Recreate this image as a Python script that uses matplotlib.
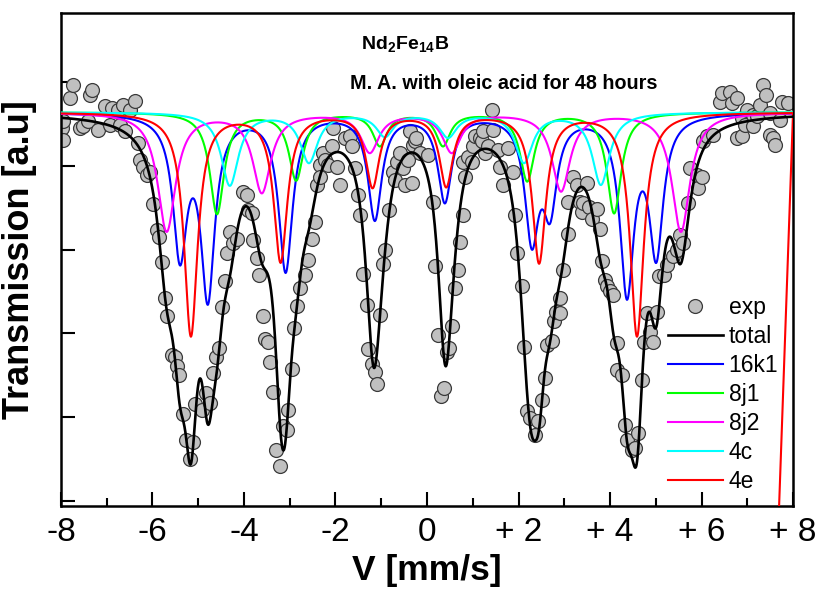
import numpy as np
import matplotlib
matplotlib.use('Agg')
import matplotlib.pyplot as plt
from matplotlib.ticker import MultipleLocator

plt.rcParams['font.family'] = ['Liberation Sans', 'DejaVu Sans']
plt.rcParams['mathtext.fontset'] = 'custom'
plt.rcParams['mathtext.rm'] = 'Liberation Sans:bold'

# measured spectrum (velocity in mm/s, transmission in a.u.)
exp_v = [-7.98, -7.95, -7.95, -7.80, -7.73, -7.58, -7.51, -7.40, -7.37, -7.33,
         -7.18, -7.04, -6.93, -6.89, -6.75, -6.71, -6.64, -6.60, -6.49, -6.38,
         -6.31, -6.27, -6.20, -6.13, -6.05, -5.98, -5.91, -5.85, -5.80, -5.73,
         -5.69, -5.58, -5.51, -5.47, -5.41, -5.34, -5.27, -5.17, -5.11, -5.07,
         -4.92, -4.82, -4.74, -4.67, -4.61, -4.54, -4.49, -4.42, -4.38, -4.31,
         -4.23, -4.16, -4.02, -3.94, -3.91, -3.83, -3.80, -3.72, -3.67, -3.59,
         -3.54, -3.47, -3.43, -3.36, -3.29, -3.21, -3.14, -3.07, -3.03, -2.96,
         -2.91, -2.85, -2.78, -2.67, -2.59, -2.52, -2.45, -2.41, -2.34, -2.34,
         -2.27, -2.23, -2.16, -2.08, -2.05, -1.97, -1.90, -1.79, -1.68, -1.65,
         -1.57, -1.50, -1.46, -1.39, -1.32, -1.28, -1.21, -1.14, -1.09, -1.03,
         -0.96, -0.92, -0.82, -0.74, -0.70, -0.66, -0.59, -0.52, -0.48, -0.41,
         -0.37, -0.33, -0.30, -0.26, -0.23, -0.15, 0.03, 0.14, 0.17, 0.24,
         0.30, 0.37, 0.43, 0.47, 0.54, 0.61, 0.68, 0.72, 0.79, 0.79,
         0.83, 0.90, 0.98, 1.01, 1.05, 1.16, 1.20, 1.23, 1.27, 1.34,
         1.41, 1.45, 1.56, 1.60, 1.67, 1.78, 1.89, 1.92, 1.96, 2.07,
         2.12, 2.18, 2.25, 2.36, 2.43, 2.51, 2.57, 2.63, 2.73, 2.78,
         2.83, 2.91, 2.91, 2.98, 3.09, 3.09, 3.20, 3.27, 3.34, 3.38,
         3.42, 3.49, 3.53, 3.60, 3.71, 3.78, 3.82, 3.89, 3.93, 4.00,
         4.07, 4.15, 4.15, 4.26, 4.33, 4.37, 4.47, 4.55, 4.62, 4.69,
         4.74, 4.80, 4.87, 4.95, 5.02, 5.06, 5.17, 5.24, 5.38, 5.46,
         5.53, 5.60, 5.71, 5.75, 5.90, 5.93, 6.00, 6.04, 6.11, 6.26,
         6.40, 6.44, 6.62, 6.66, 6.77, 6.77, 6.88, 6.88, 6.95, 6.99,
         7.13, 7.13, 7.21, 7.28, 7.35, 7.41, 7.50, 7.50, 7.57, 7.61,
         7.72, 7.75, 7.90]
exp_t = [4.45, 4.53, 4.31, 4.81, 4.96, 4.45, 4.47, 4.53, 4.84, 4.90,
         4.43, 4.71, 4.49, 4.69, 4.67, 4.49, 4.73, 4.41, 4.67, 4.77,
         4.27, 4.07, 3.99, 3.89, 3.93, 3.54, 3.23, 3.15, 2.85, 2.42,
         2.21, 1.74, 1.72, 1.61, 1.50, 1.04, 0.73, 0.50, 0.70, 1.16,
         1.09, 1.29, 1.17, 1.53, 1.72, 1.83, 2.32, 2.62, 2.96, 3.21,
         3.08, 3.13, 3.69, 3.65, 3.47, 3.44, 3.11, 2.90, 2.70, 2.21,
         1.93, 1.90, 1.66, 1.30, 0.61, 0.42, 0.89, 0.85, 1.08, 1.58,
         2.06, 2.33, 2.54, 2.70, 2.88, 3.13, 3.33, 3.77, 4.01, 3.87,
         4.15, 4.07, 4.01, 4.23, 4.45, 3.99, 3.77, 4.33, 4.35, 4.23,
         3.97, 3.65, 3.41, 2.71, 2.34, 1.81, 1.64, 1.54, 1.40, 2.22,
         2.83, 3.00, 3.47, 3.93, 3.83, 4.05, 4.15, 3.97, 3.77, 4.07,
         4.41, 3.79, 4.25, 4.29, 4.33, 4.15, 4.13, 3.57, 2.80, 1.98,
         1.25, 1.35, 1.78, 1.82, 2.09, 2.54, 2.76, 3.09, 3.41, 4.05,
         3.87, 4.11, 4.05, 4.23, 4.35, 4.33, 4.29, 4.41, 4.15, 4.23,
         4.67, 4.43, 4.19, 3.99, 3.77, 4.21, 3.93, 3.41, 2.96, 2.56,
         1.84, 1.07, 0.99, 0.79, 0.95, 1.21, 1.47, 1.86, 1.91, 2.15,
         2.26, 2.42, 2.24, 2.76, 3.19, 3.57, 3.87, 3.77, 3.57, 3.45,
         3.55, 3.79, 3.51, 3.37, 3.49, 3.25, 2.86, 2.64, 2.56, 2.50,
         2.46, 1.88, 1.56, 1.50, 0.91, 0.73, 0.61, 0.63, 0.81, 1.44,
         1.90, 2.24, 2.02, 1.90, 2.26, 2.68, 2.70, 2.82, 2.92, 3.00,
         3.17, 3.08, 3.55, 3.97, 3.89, 3.73, 3.87, 4.29, 4.35, 4.37,
         4.76, 4.87, 4.88, 4.75, 4.81, 4.33, 4.57, 4.35, 4.49, 4.67,
         4.61, 4.47, 4.59, 4.73, 4.96, 4.84, 4.63, 4.37, 4.33, 4.25,
         4.55, 4.76, 4.75]

baseline = 4.64

# fitted sub-spectra: line positions (mm/s), line depths and half width
pos_16k1 = [-5.40, -4.79, -3.09, -1.14, 0.39, 2.29, 2.69, 4.37, 5.01]
dep_16k1 = [1.83, 2.30, 1.92, 1.30, 1.09, 1.64, 1.33, 2.24, 1.80]
pos_8j1 = [-4.59, -2.86, -1.03, 0.35, 2.19, 4.09]
dep_8j1 = [1.22, 0.82, 0.41, 0.41, 0.83, 1.21]
pos_8j2 = [-5.69, -3.61, -1.25, 0.54, 2.93, 5.55]
dep_8j2 = [1.43, 0.97, 0.49, 0.49, 0.95, 1.43]
pos_4c = [-4.31, -2.58, -0.92, 0.46, 2.12, 3.80]
dep_4c = [0.88, 0.61, 0.30, 0.31, 0.61, 0.87]
pos_4e = [-5.16, -3.20, -1.19, 0.42, 2.45, 4.59]
dep_4e = [2.68, 1.80, 0.91, 0.90, 1.81, 2.68]

# last point written out by the fit program for 4e
tail_4e = (7.57, -2.0)


def lorentz(d, hw):
    return hw ** 2 / (hw ** 2 + d ** 2)


def absorption(v, pos, depth, hw):
    pos = np.asarray(pos)
    depth = np.asarray(depth)
    # line intensities chosen so the summed curve reaches each depth
    amp = np.linalg.solve(lorentz(pos[:, None] - pos[None, :], hw), depth)
    return (amp[None, :] * lorentz(v[:, None] - pos[None, :], hw)).sum(axis=1)


v = np.linspace(-8, 8, 1601)
comps = [
    ('16k1', pos_16k1, dep_16k1, 0.185, '#0000ff'),
    ('8j1', pos_8j1, dep_8j1, 0.19, '#00ff00'),
    ('8j2', pos_8j2, dep_8j2, 0.24, '#ff00ff'),
    ('4c', pos_4c, dep_4c, 0.23, '#00ffff'),
    ('4e', pos_4e, dep_4e, 0.18, '#ff0000'),
]
absb = [absorption(v, p, d, hw) for _, p, d, hw, _ in comps]
total = baseline - np.sum(absb, axis=0)

fig = plt.figure(figsize=(8.24, 5.96), dpi=100)
ax = fig.add_axes([0.074, 0.151, 0.8884, 0.8272])

ax.plot(exp_v, exp_t, 'o', ms=10, mfc='#c0c0c0', mec='#3a3a3a', mew=0.9,
        label='exp', zorder=2)
ax.plot(v, total, color='black', lw=1.9, label='total', zorder=4)
for (name, p, d, hw, col), a in zip(comps, absb):
    vv, yy = v, baseline - a
    if name == '4e':
        vv = np.append(vv, tail_4e[0])
        yy = np.append(yy, tail_4e[1])
    ax.plot(vv, yy, color=col, lw=1.5, label=name, zorder=3)

ax.set_xlim(-8, 8)
ax.set_ylim(-0.06, 5.823)
ax.xaxis.set_minor_locator(MultipleLocator(1))
ax.set_xticks(range(-8, 9, 2))
ax.set_xticklabels(['-8', '-6', '-4', '-2', '0', '+ 2', '+ 4', '+ 6', '+ 8'])
ax.set_yticks(range(0, 6))
ax.set_yticklabels([])
ax.tick_params(axis='x', which='major', direction='in', length=10, width=1.5,
               labelsize=24, pad=8)
ax.tick_params(axis='x', which='minor', direction='in', length=6, width=1.5)
ax.tick_params(axis='y', direction='in', length=10, width=1.5)
for s in ax.spines.values():
    s.set_linewidth(1.8)

ax.set_xlabel('V [mm/s]', fontsize=25.5, fontweight='bold', labelpad=4)
ax.set_ylabel('Transmission [a.u]', fontsize=26, fontweight='bold', labelpad=14)

ax.text(0.47, 0.935, r'Nd$_\mathrm{2}$Fe$_\mathrm{14}$B', transform=ax.transAxes,
        fontsize=14, fontweight='bold', ha='center', va='center')
ax.text(0.605, 0.857, 'M. A. with oleic acid for 48 hours', transform=ax.transAxes,
        fontsize=14.2, fontweight='bold', ha='center', va='center')

ax.legend(loc='upper left', bbox_to_anchor=(0.829, 0.426), frameon=False,
          fontsize=16.5, handlelength=2.4, handletextpad=0.25,
          labelspacing=0.26, borderpad=0, borderaxespad=0)

fig.savefig('out.png', dpi=100)
